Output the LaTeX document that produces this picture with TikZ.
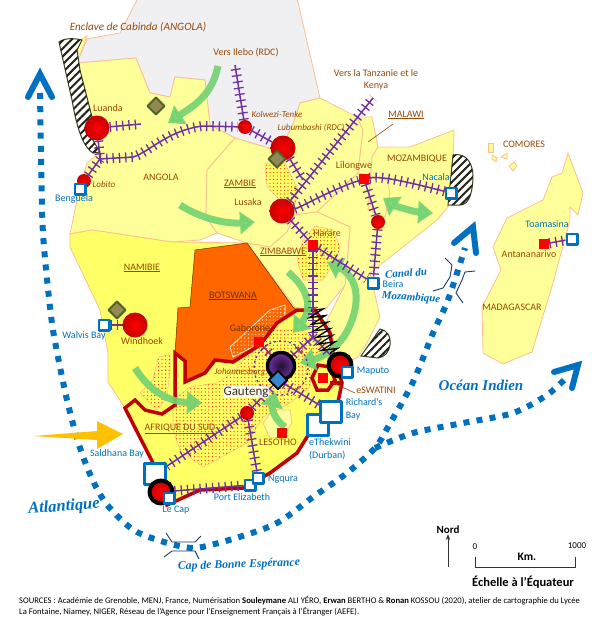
\documentclass[tikz,border=0pt]{standalone}
\usepackage{fontspec}
\setmainfont{Carlito}
\newfontfamily\seafont{Liberation Serif}
\usetikzlibrary{arrows.meta, patterns, patterns.meta, decorations.pathmorphing}

\definecolor{landyellow}{HTML}{FFFF99}
\definecolor{brightyellow}{HTML}{FFFF66}
\definecolor{landborder}{HTML}{FAC090}
\definecolor{rdcgrey}{HTML}{F0F0F2}
\definecolor{citybrown}{HTML}{984806}
\definecolor{portblue}{HTML}{0070C0}
\definecolor{railpurple}{HTML}{7030A0}
\definecolor{saborder}{HTML}{C00000}
\definecolor{arrowgreen}{HTML}{72D272}
\definecolor{olivefill}{HTML}{938953}
\definecolor{oliveborder}{HTML}{4F6228}
\definecolor{straitblue}{HTML}{1F3864}
\definecolor{botswanaorange}{HTML}{FF6600}
\definecolor{capearrow}{HTML}{FFC000}
\definecolor{dotred}{HTML}{FF2A00}

\pgfdeclarelayer{land_layer}
\pgfdeclarelayer{rail_layer}
\pgfsetlayers{land_layer,rail_layer,main}

\begin{document}
\begin{tikzpicture}
    [
        x=1pt, y=-1pt, line join=round,
        land/.style={draw=landborder, line width=0.8pt, fill=landyellow},
        dot_zone/.style={draw=landborder, line width=0.6pt, fill=brightyellow, postaction={pattern={Dots[radius=0.65pt, distance=3.6pt]}, pattern color=dotred}},
        hatch_zone/.style={draw=oliveborder!70!black, line width=1pt, fill=white, postaction={pattern={Lines[angle=45, distance=5.6pt, line width=2pt]}, pattern color=black!75!olivefill}},
        sa_border/.style={draw=saborder, line width=3.5pt},
        green_arrow/.style={draw=arrowgreen, line width=7pt, opacity=0.9, -{Triangle[length=15pt, width=22pt]}},
        green_both/.style={draw=arrowgreen, line width=7pt, opacity=0.9, {Triangle[length=15pt, width=22pt]}-{Triangle[length=15pt, width=22pt]}},
        sea_route/.style={draw=portblue, line width=6pt, dash pattern=on 6pt off 7.2pt},
        route_head/.style={draw=portblue, line width=6pt, line cap=round},
        strait/.style={draw=straitblue, line width=0.9pt},
        rail/.style={draw=railpurple, line width=1.5pt, postaction={draw=railpurple, line width=10pt, dash pattern=on 1.3pt off 5pt}},
        big_city/.style={circle, inner sep=0pt, minimum size=25pt, inner color=red, outer color=red!78!black},
        small_city/.style={circle, inner sep=0pt, minimum size=14pt, inner color=red, outer color=red!78!black},
        ring_city/.style={circle, inner sep=0pt, minimum size=23pt, draw=black, line width=4pt, inner color=red, outer color=red!78!black},
        capital/.style={rectangle, fill=red, inner sep=0pt, minimum size=10pt},
        port/.style={rectangle, draw=portblue, fill=white, line width=2.5pt, inner sep=0pt, minimum size=10.5pt},
        big_port/.style={rectangle, draw=portblue, fill=white, line width=2.5pt, inner sep=0pt, minimum size=21pt},
        mine/.style={rectangle, rotate=45, draw=oliveborder, fill=olivefill, line width=2pt, inner sep=0pt, minimum size=12pt},
        city_text/.style={text=citybrown, inner sep=0pt, font=\fontsize{10}{12}\selectfont},
        city_italic/.style={text=citybrown, inner sep=0pt, font=\fontsize{9}{11}\selectfont\itshape},
        port_text/.style={text=portblue, inner sep=0pt, font=\fontsize{10}{13}\selectfont},
        sea_text/.style={text=portblue, inner sep=0pt, font=\seafont\bfseries\itshape},
        scale_text/.style={text=black, inner sep=0pt, font=\fontsize{11}{13}\selectfont\bfseries},
    ]
        \useasboundingbox (0,0) rectangle (609,626);

        \begin{pgfonlayer}{land_layer}
        \draw[land, fill=rdcgrey] (138,-2) -- (297,-2) -- (320,98) -- (300,103) -- (293,125) -- (285,140) -- (275,150) -- (235,138) -- (210,125) -- (205,80) -- (175,77) -- (170,97) -- (150,93) -- (136,58) -- (77,63) -- (87,39) -- (120,33) -- cycle;
        \draw[land] (77,63) -- (136,58) -- (150,93) -- (170,97) -- (175,77) -- (205,80) -- (210,125) -- (235,138) -- (207,170) -- (206,217) -- (217,233) -- (200,240) -- (172,242) -- (92,230) -- (70,234) -- (77,200) -- (87,163) -- (100,152) -- (92,117) -- cycle;
        \draw[land] (80,40) -- (87,36) -- (80,55) -- (76,48) -- cycle;
        \draw[land] (235,138) -- (275,150) -- (285,140) -- (293,125) -- (300,103) -- (320,98) -- (357,117) -- (363,130) -- (358,173) -- (317,212) -- (295,215) -- (287,232) -- (270,247) -- (247,243) -- (217,233) -- (206,217) -- (207,170) -- cycle;
        \draw[land] (357,117) -- (372,117) -- (378,147) -- (372,157) -- (368,210) -- (385,217) -- (390,193) -- (387,180) -- (358,173) -- (363,130) -- cycle;
        \draw[land] (378,147) -- (410,147) -- (454,130) -- (453,170) -- (448,207) -- (437,220) -- (370,273) -- (380,317) -- (367,343) -- (358,357) -- (342,365) -- (327,320) -- (345,285) -- (350,227) -- (317,212) -- (358,173) -- (387,180) -- (390,193) -- (385,217) -- (368,210) -- (372,157) -- cycle;
        \draw[land] (317,212) -- (350,227) -- (345,285) -- (325,310) -- (297,310) -- (247,243) -- (270,247) -- (287,232) -- (295,215) -- cycle;
        \draw[land, fill=brightyellow] (70,234) -- (92,230) -- (172,242) -- (247,243) -- (293,307) -- (317,310) -- (330,357) -- (342,382) -- (338,407) -- (310,433) -- (297,453) -- (270,473) -- (243,488) -- (200,490) -- (167,505) -- (160,490) -- (153,465) -- (125,408) -- (108,382) -- (108,353) -- (100,310) -- (70,247) -- cycle;
        \draw[land] (568,153) -- (583,193) -- (578,215) -- (570,207) -- (570,220) -- (553,283) -- (532,352) -- (503,364) -- (483,353) -- (482,307) -- (501,270) -- (493,247) -- (507,218) -- (543,200) -- (552,177) -- (562,173) -- cycle;
        \draw[land] (488,143) -- (493,143) -- (493,152) -- (488,152) -- cycle;
        \draw[land] (492,155) -- (497,158) -- (496,162) -- (492,159) -- cycle;
        \draw[land] (501,157) -- (507,153) -- (507,159) -- cycle;
        \draw[land] (509,166) -- (514,162) -- (517,166) -- (513,171) -- cycle;

        \draw[hatch_zone] (59,42) .. controls (64,38) and (74,38) .. (82,40) -- (77,50) -- (80,70) -- (92,117) -- (85,127) -- (100,152) -- (93,153) .. controls (85,148) and (78,135) .. (72,100) -- cycle;
        \draw[hatch_zone] (453,155) .. controls (462,153) and (472,158) .. (473,175) .. controls (473,190) and (470,205) .. (460,205) -- (448,205) -- cycle;
        \draw[hatch_zone] (380,329) .. controls (387,330) and (391,336) .. (390,345) .. controls (389,352) and (385,357) .. (378,358) -- (361,356) -- cycle;

        \draw[dot_zone] (173,400) -- (190,387) -- (217,383) -- (233,373) -- (257,343) -- (270,330) -- (303,330) -- (320,347) -- (312,363) -- (310,387) -- (290,403) -- (263,417) -- (247,443) -- (203,467) -- (180,450) -- (173,430) -- cycle;
        \draw[dot_zone] (158,357) -- (170,355) -- (170,370) -- (167,397) -- (157,410) -- (140,393) -- (153,380) -- cycle;
        \draw[dot_zone] (265,163) -- (285,163) -- (298,190) -- (293,213) -- (280,200) -- (267,187) -- cycle;
        \draw[dot_zone] (303,240) -- (315,226) -- (333,230) -- (340,247) -- (337,258) -- (323,280) -- (303,280) -- (297,260) -- cycle;
        \draw[land] (263,423) -- (273,410) -- (290,410) -- (292,423) -- (283,437) -- (270,438) -- cycle;

        \draw[draw=citybrown!70!black, line width=0.5pt, fill=botswanaorange] (195,250) -- (247,243) -- (293,307) -- (297,310) -- (277,323) -- (260,345) -- (233,362) -- (215,360) -- (205,373) -- (185,382) -- (185,360) -- (175,353) -- (178,308) -- (190,307) -- cycle;
        \draw[draw=white, line width=0.6pt, fill=botswanaorange, postaction={pattern={Dots[radius=0.65pt, distance=3.6pt]}, pattern color=white}] (230,347) -- (270,310) -- (285,305) -- (285,317) -- (253,347) -- (233,357) -- cycle;

        \draw[sa_border] (125,408) -- (135,400) -- (145,410) -- (162,414) -- (175,405) -- (175,353) -- (185,361) -- (185,382) -- (205,373) -- (215,360) -- (233,362) -- (260,345) -- (277,323) -- (297,310) -- (315,310) -- (330,333) -- (333,353) -- (342,383) -- (338,402) -- (320,416) -- (307,437) -- (297,453) -- (270,473) -- (243,488) -- (200,490) -- (167,505) -- (153,463) -- cycle;
        \draw[sa_border, fill=brightyellow] (318,365) -- (330,367) -- (335,380) -- (328,390) -- (317,390) -- (312,378) -- cycle;
        \draw[sa_border] (330,383) -- (342,383);

        \draw[sea_route] plot[smooth] coordinates {(40,93) (42,208) (44,247) (49,298) (54,336) (67,400) (80,448) (94,483) (109,507) (137,532) (184,547) (211,545) (273,525) (313,497) (347,473) (375,448) (388,427) (413,382) (433,333) (448,300) (465,248)};
        \draw[sea_route] plot[smooth] coordinates {(375,448) (413,433) (463,423) (513,413) (547,395) (567,377)};
        \draw[route_head] (28,97) -- (40,74) -- (52,97);
        \draw[route_head] (454,243) -- (473,227) -- (476,253);
        \draw[route_head] (554,372) -- (578,365) -- (572,388);
        \draw[strait] (166,533) -- (172,542) -- (195,542) -- (201,536);
        \draw[strait] (164,557) -- (172,551) -- (195,551) -- (199,559);
        \draw[strait] (445,258) -- (452,265) -- (450,277) -- (443,288) -- (433,291);
        \draw[strait] (475,271) -- (465,272) -- (462,280) -- (456,293) -- (463,303);

        \fill[color=capearrow] (33,436) -- (97,431) -- (97,421) -- (123,434) -- (97,449) -- (97,440) -- cycle;

        \draw[green_arrow] (218,66) .. controls (212,95) and (195,105) .. (168,123);
        \draw[green_arrow] (180,205) .. controls (200,218) and (225,224) .. (255,222);
        \draw[green_both] (383,198) .. controls (395,206) and (415,212) .. (433,213);
        \draw[green_arrow] (288,272) .. controls (310,290) and (312,310) .. (293,333);
        \draw[green_both] (327,262) .. controls (355,275) and (365,300) .. (345,335) .. controls (335,350) and (320,358) .. (300,363);
        \draw[green_arrow] (135,368) .. controls (150,392) and (170,402) .. (202,403);
        \draw[green_arrow] (285,427) .. controls (272,418) and (272,405) .. (275,392);
        \end{pgfonlayer}

        \node[big_city] (luanda) at (97,128) {};
        \node[small_city] (lobito) at (84,181) {};
        \node[port] (benguela) at (80,189) {};
        \node[small_city] (kolwezi) at (245,127) {};
        \node[big_city] (lubumbashi) at (283,148) {};
        \node[big_city] (lusaka) at (282,211) {};
        \node[capital] (lilongwe) at (364,179) {};
        \node[small_city] (moz_city) at (378,222) {};
        \node[capital] (harare) at (313,245) {};
        \node[port] (beira) at (373,283) {};
        \node[port] (nacala) at (451,193) {};
        \node[capital] (antananarivo) at (544,244) {};
        \node[port] (toamasina) at (572,239) {};
        \node[port] (walvis) at (104,325) {};
        \node[big_city] (windhoek) at (135,325) {};
        \node[capital] (gaborone) at (259,342) {};
        \node[circle, inner sep=0pt, minimum size=27pt, draw=black, line width=3.5pt, inner color=black!70!railpurple, outer color=railpurple] (johannesburg) at (281,366) {};
        \node[rectangle, rotate=45, draw=black, fill=cyan!60!blue!85!white, line width=1.8pt, inner sep=0pt, minimum size=13pt] (gauteng_hub) at (278,380) {};
        \node[ring_city] (maputo) at (340,365) {};
        \node[port] (maputo_port) at (347,372) {};
        \node[capital] (mbabane) at (323,378) {};
        \node[capital] (maseru) at (282,433) {};
        \node[small_city] (bloemfontein) at (247,413) {};
        \node[big_port] (durban) at (318,425) {};
        \node[big_port] (richards) at (331,412) {};
        \node[big_port] (saldanha) at (155,474) {};
        \node[ring_city] (le_cap) at (161,492) {};
        \node[port] (le_cap_port) at (169,498) {};
        \node[port] (port_elizabeth) at (250,485) {};
        \node[port] (ngqura) at (258,478) {};
        \node[mine] (mine_angola) at (156,106) {};
        \node[mine] (mine_zambie) at (277,159) {};
        \node[mine] (mine_namibie) at (117,310) {};

        \coordinate (ilebo_end) at (235,65);
        \coordinate (luanda_end) at (141,124);
        \coordinate (angola_fork) at (100,159);
        \coordinate (tanzanie_end) at (373,98);
        \coordinate (lubumbashi_fork) at (303,180);
        \coordinate (limpopo_fork) at (313,337);

        \begin{pgfonlayer}{rail_layer}
        \draw[rail] (luanda) -- (luanda_end);
        \draw[rail] (luanda) -- (angola_fork);
        \draw[rail] (lobito) -- (angola_fork);
        \draw[rail] (angola_fork) -- (133,157) .. controls (148,153) and (168,130) .. (203,126) -- (kolwezi);
        \draw[rail] (kolwezi) -- (ilebo_end);
        \draw[rail] (kolwezi) -- (lubumbashi);
        \draw[rail] (lubumbashi) -- (lubumbashi_fork);
        \draw[rail] (lusaka) -- (tanzanie_end);
        \draw[rail] (lusaka) .. controls (300,208) and (330,190) .. (lilongwe);
        \draw[rail] (lusaka) -- (harare);
        \draw[rail] (harare) -- (beira);
        \draw[rail] (harare) -- (limpopo_fork);
        \draw[rail] (limpopo_fork) -- (johannesburg);
        \draw[rail] (limpopo_fork) -- (maputo);
        \draw[rail] (lilongwe) .. controls (380,176) and (400,180) .. (nacala);
        \draw[rail] (lilongwe) -- (moz_city);
        \draw[rail] (moz_city) -- (beira);
        \draw[rail] (antananarivo) -- (toamasina);
        \draw[rail] (walvis) -- (windhoek);
        \draw[rail] (gauteng_hub) -- (richards);
        \draw[rail] (gaborone) -- (johannesburg);
        \draw[rail] (bloemfontein) -- (gauteng_hub);
        \draw[rail] (bloemfontein) -- (ngqura);
        \draw[rail] (bloemfontein) -- (saldanha);
        \draw[rail] (le_cap) -- (port_elizabeth);
        \draw[railpurple, line width=1.4pt, dash pattern=on 2pt off 3pt] (gauteng_hub) ++(3,-12) circle[radius=27];
        \draw[black, line width=1.3pt, decorate, decoration={zigzag, segment length=7pt, amplitude=8pt}] (315,310) -- (331,354);
        \end{pgfonlayer}

        \node[city_italic, font=\fontsize{11.2}{13}\selectfont\itshape] (cabinda_text) at (138,27) {Enclave de Cabinda (ANGOLA)};
        \node[city_text] (ilebo_text) at (246,53) {Vers Ilebo (RDC)};
        \node[city_text] (luanda_text) at (108,108) {Luanda};
        \node[city_italic] (kolwezi_text) at (277,114) {Kolwezi-Tenke};
        \node[city_italic] (lubumbashi_text) at (311,128) {Lubumbashi (RDC)};
        \node[city_italic] (lobito_text) at (104,184) {Lobito};
        \node[port_text] (benguela_text) at (74,199) {Benguela};
        \node[city_text] (angola_text) at (161,177) {ANGOLA};
        \node[city_text] (zambie_text) at (240,184) {\underline{ZAMBIE}};
        \node[city_text] (lusaka_text) at (248,202) {Lusaka};
        \node[city_text, align=center] (tanzanie_text) at (376,80) {Vers la Tanzanie et le\\Kenya};
        \node[city_text] (malawi_text) at (406,115) {\underline{MALAWI}};
        \node[city_text] (mozambique_text) at (417,159) {MOZAMBIQUE};
        \node[city_text] (lilongwe_text) at (354,166) {Lilongwe};
        \node[port_text] (nacala_text) at (436,177) {Nacala};
        \node[city_text] (comores_text) at (524,144) {COMORES};
        \node[port_text] (toamasina_text) at (547,224) {Toamasina};
        \node[city_text] (antananarivo_text) at (529,254) {Antananarivo};
        \node[city_text] (madagascar_text) at (512,307) {MADAGASCAR};
        \node[city_text] (harare_text) at (327,233) {Harare};
        \node[city_text] (zimbabwe_text) at (283,252) {\underline{ZIMBABWE}};
        \node[port_text] (beira_text) at (393,284) {Beira};
        \node[city_text] (namibie_text) at (142,268) {\underline{NAMIBIE}};
        \node[city_text, text=citybrown!70!black] (botswana_text) at (233,296) {\underline{BOTSWANA}};
        \node[city_text, text=citybrown!70!black] (gaborone_text) at (250,328) {Gaborone};
        \node[city_italic] (johannesburg_text) at (240,372) {Johannesburg};
        \node[inner sep=0.6pt, fill=white, fill opacity=0.85, text opacity=1, rounded corners=2pt, text=black!80, font=\fontsize{13}{15}\selectfont] (gauteng_text) at (246,392) {Gauteng};
        \node[city_text] (windhoek_text) at (142,341) {Windhoek};
        \node[port_text] (walvis_text) at (84,336) {Walvis Bay};
        \node[port_text] (saldanha_text) at (117,454) {Saldhana Bay};
        \node[city_text] (sud_text) at (180,429) {\underline{AFRIQUE DU SUD}};
        \node[city_text] (lesotho_text) at (278,442) {LESOTHO};
        \node[port_text] (elizabeth_text) at (242,497) {Port Elizabeth};
        \node[port_text] (ngqura_text) at (283,479) {Ngqura};
        \node[port_text] (cap_text) at (176,510) {Le Cap};
        \node[port_text] (maputo_text) at (373,371) {Maputo};
        \node[city_text] (eswatini_text) at (376,390) {eSWATINI};
        \node[port_text, align=left] (richards_text) at (364,409) {Richard's\\Bay};
        \node[port_text, align=left] (durban_text) at (330,449) {eThekwini\\(Durban)};

        \node[sea_text, font=\seafont\bfseries\itshape\fontsize{11}{13}\selectfont, rotate=4] (canal_text) at (406,273) {Canal du};
        \node[sea_text, font=\seafont\bfseries\itshape\fontsize{11}{13}\selectfont, rotate=-4] (moz_canal_text) at (411,298) {Mozambique};
        \node[sea_text, font=\seafont\bfseries\itshape\fontsize{15}{17}\selectfont] (indien_text) at (481,385) {Océan Indien};
        \node[sea_text, font=\seafont\bfseries\itshape\fontsize{16.5}{18}\selectfont, rotate=4] (atlantique_text) at (64,507) {Atlantique};
        \node[sea_text, font=\seafont\bfseries\itshape\fontsize{11.7}{13}\selectfont, rotate=2] (cape_text) at (239,565) {Cap de Bonne Espérance};

        \draw[citybrown, line width=0.6pt] (368,142) -- (393,124);
        \draw[citybrown, line width=0.6pt] (333,383) -- (355,393);

        \node[scale_text] (nord_text) at (448,530) {Nord};
        \coordinate (nord_base) at (448,567);
        \draw[-{Stealth[length=6pt]}, line width=0.8pt, color=black!80] (nord_base) -- (nord_text);
        \draw[line width=1pt, color=black!80] (475,557) -- (475,567) -- (575,567) -- (575,557);
        \node[scale_text, font=\fontsize{9}{11}\selectfont] (zero_text) at (475,547) {0};
        \node[scale_text, font=\fontsize{9}{11}\selectfont] (mille_text) at (577,546) {1000};
        \node[scale_text, font=\fontsize{11.5}{13}\selectfont\bfseries] (km_text) at (527,557) {Km.};
        \node[scale_text, font=\fontsize{12.5}{14}\selectfont\bfseries] (echelle_text) at (523,582) {Échelle à l'Équateur};
        \node[anchor=north west, align=left, inner sep=0pt, text=black, font=\fontsize{8.6}{11.5}\selectfont] (sources_text) at (19,596) {SOURCES : Académie de Grenoble, MENJ, France, Numérisation \textbf{Souleymane} ALI YÉRO, \textbf{Erwan} BERTHO \& \textbf{Ronan} KOSSOU (2020), atelier de cartographie du Lycée\\La Fontaine, Niamey, NIGER, Réseau de l'Agence pour l'Enseignement Français à l'Étranger (AEFE).};
    \end{tikzpicture}
\end{document}
